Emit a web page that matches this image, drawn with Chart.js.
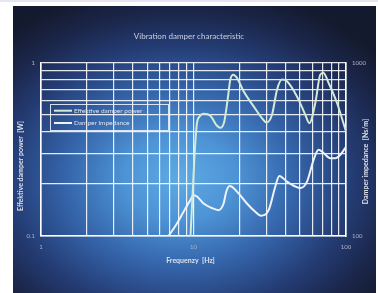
<!DOCTYPE html>
<html><head><meta charset="utf-8">
<script src="https://cdn.jsdelivr.net/npm/chart.js@4"></script>
<style>html,body{margin:0;padding:0;background:#fff;overflow:hidden}#wrap{position:absolute;left:0;top:0;width:378px;height:293px}</style>
</head><body><div id="wrap"><canvas id="c" width="378" height="293"></canvas></div>
<script>
const titleText = 'Vibration damper characteristic';
const xTitle = 'Frequenzy  [Hz]';
const yLeftTitle = 'Effektive damper power  [W]';
const yRightTitle = 'Damper impedance  [Ns/m]';
const seriesNames = ['Effektive damper power', 'Damper impedance'];
const powerFreq = [9.5, 9.92, 10.28, 10.54, 10.96, 11.65, 12.9, 14.26, 15.0, 15.92, 16.74, 17.43, 18.24, 19.28, 21.3, 24.8, 28.1, 30.2, 32.7, 35.3, 38.0, 41.0, 47.7, 54.1, 57.5, 62.9, 67.8, 71.0, 76.9, 87.3, 100];
const powerValues = [0.09, 0.193, 0.345, 0.448, 0.489, 0.507, 0.494, 0.432, 0.421, 0.458, 0.611, 0.798, 0.852, 0.816, 0.683, 0.559, 0.479, 0.452, 0.5, 0.698, 0.798, 0.78, 0.638, 0.5, 0.447, 0.585, 0.852, 0.875, 0.763, 0.585, 0.401];
const impFreq = [6.8, 7.79, 8.61, 9.53, 10.0, 10.55, 11.65, 13.2, 14.6, 15.75, 16.4, 17.25, 17.9, 19.76, 22.4, 25.4, 27.6, 31.1, 34.4, 36.5, 41.0, 46.5, 50.2, 55.5, 61.3, 66.1, 71.3, 78.9, 85.1, 91.8, 100];
const impValues = [99, 118, 138, 161, 172, 169, 154, 145, 141, 154, 180, 194, 192, 176, 154, 138, 131, 141, 193, 222, 206, 193, 189, 206, 275, 314, 301, 281, 281, 294, 327];
const xGridValues = [1, 2, 3, 4, 5, 6, 7, 8, 9, 10, 20, 30, 40, 50, 60, 70, 80, 90, 100];
const yLeftGridValues = [0.1, 0.2, 0.3, 0.4, 0.5, 0.6, 0.7, 0.8, 0.9, 1];
const yRightGridValues = [100, 1000];
const xTickLabels = [1, 10, 100];
const leftTickLabels = [0.1, 1];
const rightTickLabels = [100, 1000];

const tickFont = {family: 'Lato', size: 6};
const tickColor = '#aeb3c6';
const gridColor = 'rgba(255,255,255,0.88)';
function pick(list) {
  return function(v) {
    for (const t of list) { if (Math.abs(v - t) < 1e-6 * t) return String(t); }
    return '';
  };
}
function setTicks(list) {
  return function(s) { s.ticks = list.map(v => ({value: v})); };
}

const bgPlugin = {
  id: 'bg',
  beforeDraw(chart) {
    const ctx = chart.ctx;
    ctx.save();
    ctx.fillStyle = '#ffffff';
    ctx.fillRect(0, 0, 378, 293);
    ctx.fillStyle = '#e6e6f3';
    ctx.fillRect(0, 0, 378, 2);
    ctx.beginPath();
    ctx.rect(13, 6, 363, 287);
    ctx.clip();
    ctx.translate(180, 178);
    ctx.scale(1.3, 1);
    const g = ctx.createRadialGradient(0, 0, 0, 0, 0, 195);
    g.addColorStop(0, '#5eaae3');
    g.addColorStop(0.22, '#4d93d5');
    g.addColorStop(0.45, '#3565ab');
    g.addColorStop(0.68, '#243c74');
    g.addColorStop(0.86, '#1a2548');
    g.addColorStop(1, '#141a2e');
    ctx.fillStyle = g;
    ctx.fillRect(-200, -200, 400, 400);
    ctx.restore();
  }
};

const textPlugin = {
  id: 'texts',
  afterDraw(chart) {
    const ctx = chart.ctx;
    ctx.save();
    ctx.fillStyle = '#dde1ea';
    ctx.font = 'bold 7px Lato';
    ctx.textAlign = 'center';
    ctx.textBaseline = 'middle';
    ctx.fillText(xTitle, 190.5, 261);
    ctx.save();
    ctx.translate(20.5, 166);
    ctx.rotate(-Math.PI / 2);
    ctx.fillText(yLeftTitle, 0, 0);
    ctx.restore();
    ctx.save();
    ctx.translate(365.5, 161.5);
    ctx.rotate(-Math.PI / 2);
    ctx.fillText(yRightTitle, 0, 0);
    ctx.restore();
    ctx.restore();
  },
  afterDatasetsDraw(chart) {
    const ctx = chart.ctx;
    ctx.save();
    ctx.strokeStyle = 'rgba(235,240,250,0.9)';
    ctx.lineWidth = 1;
    ctx.strokeRect(50.5, 104.5, 118, 26);
    const ys = [110.7, 123];
    chart.data.datasets.forEach((ds, i) => {
      ctx.strokeStyle = ds.borderColor;
      ctx.lineWidth = 2;
      ctx.beginPath();
      ctx.moveTo(54, ys[i]);
      ctx.lineTo(72, ys[i]);
      ctx.stroke();
      ctx.fillStyle = '#dfe3ee';
      ctx.font = '6.5px Lato';
      ctx.textAlign = 'left';
      ctx.textBaseline = 'middle';
      ctx.fillText(ds.label, 74, ys[i]);
    });
    ctx.restore();
  }
};

new Chart(document.getElementById('c'), {
  type: 'line',
  data: {
    datasets: [
      {
        label: seriesNames[0],
        data: powerFreq.map((f, i) => ({x: f, y: powerValues[i]})),
        yAxisID: 'yL',
        borderColor: '#d3ead6',
        borderWidth: 2,
        pointRadius: 0,
        cubicInterpolationMode: 'monotone',
        fill: false
      },
      {
        label: seriesNames[1],
        data: impFreq.map((f, i) => ({x: f, y: impValues[i]})),
        yAxisID: 'yR',
        borderColor: '#eef3fa',
        borderWidth: 2,
        pointRadius: 0,
        cubicInterpolationMode: 'monotone',
        fill: false
      }
    ]
  },
  options: {
    responsive: false,
    animation: false,
    devicePixelRatio: 1,
    layout: {padding: 0},
    plugins: {
      legend: {display: false},
      tooltip: {enabled: false},
      title: {
        display: true,
        text: titleText,
        color: '#c9cfe0',
        font: {family: 'Lato', size: 8, weight: 'normal'},
        padding: {top: 32, bottom: 21}
      }
    },
    scales: {
      x: {
        type: 'logarithmic',
        position: 'bottom',
        min: 1, max: 100,
        afterBuildTicks: setTicks(xGridValues),
        grid: {color: gridColor, lineWidth: 1.2, drawTicks: false},
        border: {display: true, color: '#ffffff', width: 1.6},
        ticks: {autoSkip: false, maxRotation: 0, padding: 7, color: tickColor, font: tickFont, callback: pick(xTickLabels)},
        afterFit(s) { s.height = 57; }
      },
      yL: {
        type: 'logarithmic',
        position: 'left',
        min: 0.1, max: 1,
        afterBuildTicks: setTicks(yLeftGridValues),
        grid: {color: gridColor, lineWidth: 1.2, drawTicks: false},
        border: {display: true, color: '#ffffff', width: 1.6},
        ticks: {autoSkip: false, padding: 6, color: tickColor, font: tickFont, callback: pick(leftTickLabels)},
        afterFit(s) { s.width = 41; }
      },
      yR: {
        type: 'logarithmic',
        position: 'right',
        min: 100, max: 1000,
        afterBuildTicks: setTicks(yRightGridValues),
        grid: {display: false, drawTicks: false},
        border: {display: true, color: '#ffffff', width: 1.6},
        ticks: {autoSkip: false, padding: 6, color: tickColor, font: tickFont, callback: pick(rightTickLabels)},
        afterFit(s) { s.width = 32; }
      }
    }
  },
  plugins: [bgPlugin, textPlugin]
});
</script>
</body></html>
